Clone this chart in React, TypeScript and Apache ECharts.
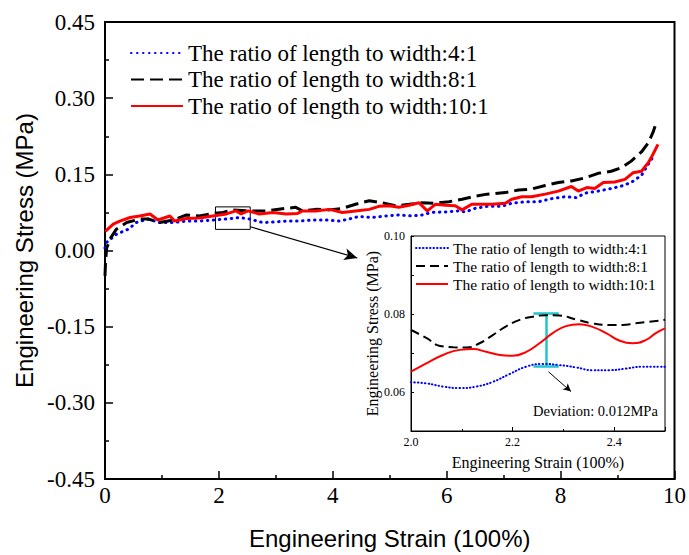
import React, { useEffect, useRef } from 'react';
import * as echarts from 'echarts';

const seriesNames = [
  'The ratio of length to width:4:1',
  'The ratio of length to width:8:1',
  'The ratio of length to width:10:1',
];
const insetKeys = ['i4', 'i8', 'i10'];

// Main chart (strain, stress)
const strain4 = [0, 0.03, 0.2, 0.41, 0.55, 0.76, 0.96, 1.2, 1.43, 1.66, 1.9, 2.13, 2.36, 2.54, 2.77, 2.95, 3.18, 3.41, 3.65, 3.88, 4.11, 4.29, 4.46, 4.69, 4.93, 5.16, 5.39, 5.57, 5.74, 5.98, 6.21, 6.33, 6.5, 6.71, 6.97, 7.14, 7.38, 7.61, 7.84, 8.08, 8.28, 8.43, 8.66, 8.89, 9.07, 9.24, 9.42, 9.54, 9.65];
const stress4 = [0.005, 0.016, 0.032, 0.042, 0.055, 0.062, 0.055, 0.055, 0.058, 0.058, 0.06, 0.062, 0.065, 0.062, 0.055, 0.056, 0.058, 0.058, 0.06, 0.06, 0.058, 0.062, 0.067, 0.065, 0.068, 0.07, 0.068, 0.07, 0.075, 0.076, 0.078, 0.076, 0.083, 0.087, 0.087, 0.093, 0.096, 0.096, 0.102, 0.106, 0.104, 0.113, 0.117, 0.122, 0.127, 0.134, 0.148, 0.17, 0.189];

const strain8 = [0, 0.01, 0.03, 0.1, 0.2, 0.38, 0.61, 0.76, 0.96, 1.2, 1.43, 1.66, 1.84, 2.07, 2.25, 2.54, 2.83, 3.18, 3.35, 3.47, 3.7, 3.94, 4.17, 4.4, 4.64, 4.87, 5.1, 5.34, 5.57, 5.8, 6.04, 6.27, 6.5, 6.71, 7.03, 7.26, 7.49, 7.73, 7.96, 8.19, 8.43, 8.66, 8.89, 9.07, 9.24, 9.42, 9.54, 9.62, 9.66];
const stress8 = [-0.05, -0.02, 0.005, 0.025, 0.042, 0.055, 0.062, 0.062, 0.055, 0.06, 0.07, 0.068, 0.072, 0.075, 0.08, 0.078, 0.078, 0.083, 0.085, 0.078, 0.081, 0.08, 0.083, 0.091, 0.098, 0.094, 0.088, 0.091, 0.094, 0.093, 0.096, 0.101, 0.107, 0.111, 0.114, 0.119, 0.121, 0.128, 0.134, 0.137, 0.143, 0.152, 0.156, 0.163, 0.176, 0.194, 0.212, 0.232, 0.245];

const strain10 = [0, 0.02, 0.145, 0.26, 0.44, 0.61, 0.79, 0.93, 1.14, 1.22, 1.43, 1.66, 1.89, 2.13, 2.3, 2.39, 2.51, 2.71, 2.95, 3.18, 3.38, 3.47, 3.7, 3.94, 4.17, 4.4, 4.64, 4.81, 4.99, 5.16, 5.34, 5.51, 5.66, 5.8, 5.98, 6.15, 6.27, 6.44, 6.68, 6.79, 7.03, 7.14, 7.32, 7.49, 7.73, 7.96, 8.19, 8.31, 8.46, 8.6, 8.75, 8.95, 9.13, 9.27, 9.42, 9.54, 9.62, 9.71];
const stress10 = [0.038, 0.039, 0.052, 0.058, 0.065, 0.068, 0.072, 0.06, 0.068, 0.058, 0.063, 0.064, 0.068, 0.072, 0.078, 0.072, 0.078, 0.072, 0.075, 0.072, 0.073, 0.078, 0.078, 0.081, 0.075, 0.078, 0.081, 0.087, 0.088, 0.085, 0.089, 0.094, 0.078, 0.091, 0.089, 0.088, 0.08, 0.091, 0.091, 0.091, 0.093, 0.101, 0.106, 0.106, 0.111, 0.117, 0.126, 0.117, 0.124, 0.122, 0.134, 0.135, 0.14, 0.153, 0.156, 0.173, 0.189, 0.209];

// Inset (zoomed 2.0 - 2.5)
const insetStrain4 = [2.0, 2.031, 2.063, 2.096, 2.129, 2.161, 2.194, 2.227, 2.259, 2.292, 2.325, 2.357, 2.39, 2.423, 2.455, 2.5];
const insetStress4 = [0.0625, 0.0622, 0.0614, 0.061, 0.0614, 0.0626, 0.0646, 0.0665, 0.0672, 0.0669, 0.0663, 0.0656, 0.0656, 0.066, 0.0665, 0.0665];

const insetStrain8 = [2.0, 2.031, 2.057, 2.083, 2.109, 2.135, 2.161, 2.188, 2.214, 2.24, 2.266, 2.292, 2.325, 2.357, 2.39, 2.416, 2.442, 2.469, 2.5];
const insetStress8 = [0.0759, 0.0738, 0.0718, 0.0715, 0.0714, 0.0725, 0.0746, 0.0769, 0.0785, 0.0793, 0.0797, 0.0796, 0.0786, 0.0776, 0.0772, 0.0772, 0.0776, 0.078, 0.0785];

const insetStrain10 = [2.0, 2.031, 2.063, 2.096, 2.122, 2.148, 2.175, 2.2, 2.227, 2.253, 2.279, 2.305, 2.331, 2.357, 2.384, 2.41, 2.436, 2.462, 2.482, 2.5];
const insetStress10 = [0.0652, 0.0674, 0.0695, 0.0708, 0.071, 0.0703, 0.0695, 0.0693, 0.0703, 0.0725, 0.0751, 0.0769, 0.0774, 0.0767, 0.0751, 0.0732, 0.0725, 0.0733, 0.0751, 0.0763];

// Annotations (data coordinates)
const zoomBox = [[1.94, 0.0416], [2.55, 0.0859]];
const mainArrow = [[2.55, 0.0467], [4.43, -0.0147]];
const devX = 2.266;
const devCapHalf = 0.025;
const devLow = 0.0665;
const devHigh = 0.0803;
const insetArrow = [[2.2706, 0.0652], [2.315, 0.0601]];
const deviationText = 'Deviation: 0.012MPa';

const SERIF = 'Liberation Serif';
const SANS = 'Liberation Sans';

const zip = (xs: number[], ys: number[]) => xs.map((x, i) => [x, ys[i]]);

export default function App() {
  const ref = useRef<HTMLDivElement>(null);
  useEffect(() => {
    const chart = echarts.init(ref.current!, null, { renderer: 'svg' });
    const labelMap: Record<string, string> = {};
    insetKeys.forEach((k, i) => (labelMap[k] = seriesNames[i]));

    const blueMain = { color: '#0000ff', width: 3, type: [0.5, 5.5], cap: 'round' };
    const blackMain = { color: '#000000', width: 3, type: [13, 6] };
    const redMain = { color: '#ff0000', width: 3, type: 'solid' };
    const blueIn = { color: '#0000ff', width: 2, type: [0.5, 3], cap: 'round' };
    const blackIn = { color: '#000000', width: 2, type: [9, 5] };
    const redIn = { color: '#ff0000', width: 2, type: 'solid' };

    const option: any = {
      animation: false,
      backgroundColor: '#ffffff',
      grid: [
        { left: 105, top: 22, width: 571, height: 459, show: true, borderColor: '#000', borderWidth: 2, backgroundColor: 'transparent' },
        { left: 411, top: 236, width: 254, height: 195, show: true, borderColor: '#000', borderWidth: 1, backgroundColor: '#ffffff', z: 5 },
      ],
      xAxis: [
        {
          gridIndex: 0, type: 'value', min: 0, max: 10, interval: 2,
          name: 'Engineering Strain (100%)', nameLocation: 'middle', nameGap: 47,
          nameTextStyle: { fontFamily: SANS, fontSize: 24, color: '#000' },
          axisLine: { show: true, onZero: false, lineStyle: { color: '#000', width: 2 } },
          axisTick: { show: true, inside: true, length: 8, lineStyle: { color: '#000', width: 1.5 } },
          minorTick: { show: true, splitNumber: 2, length: 4, lineStyle: { color: '#000', width: 1.5 } },
          axisLabel: { fontFamily: SERIF, fontSize: 23, color: '#000', margin: 5 },
          splitLine: { show: false },
        },
        {
          gridIndex: 1, type: 'value', min: 2.0, max: 2.5, interval: 0.2,
          name: 'Engineering Strain (100%)', nameLocation: 'middle', nameGap: 23,
          nameTextStyle: { fontFamily: SERIF, fontSize: 16, color: '#000' },
          axisLine: { show: true, onZero: false, lineStyle: { color: '#000', width: 1 } },
          axisTick: { show: true, inside: true, length: 4, lineStyle: { color: '#000', width: 1 } },
          minorTick: { show: true, splitNumber: 2, length: 2, lineStyle: { color: '#000', width: 1 } },
          axisLabel: {
            fontFamily: SERIF, fontSize: 12, color: '#000', margin: 5,
            formatter: (v: number) => (Math.abs(v - 2.5) < 1e-6 ? '' : v.toFixed(1)),
          },
          splitLine: { show: false },
          z: 6,
        },
      ],
      yAxis: [
        {
          gridIndex: 0, type: 'value', min: -0.45, max: 0.45, interval: 0.15,
          name: 'Engineering Stress (MPa)', nameLocation: 'middle', nameGap: 67,
          nameTextStyle: { fontFamily: SANS, fontSize: 24, color: '#000' },
          axisLine: { show: true, onZero: false, lineStyle: { color: '#000', width: 2 } },
          axisTick: { show: true, inside: true, length: 8, lineStyle: { color: '#000', width: 1.5 } },
          minorTick: { show: true, splitNumber: 2, length: 4, lineStyle: { color: '#000', width: 1.5 } },
          axisLabel: {
            fontFamily: SERIF, fontSize: 23, color: '#000', margin: 10,
            formatter: (v: number) => (Math.abs(v) < 1e-9 ? '0.00' : v.toFixed(2)),
          },
          splitLine: { show: false },
        },
        {
          gridIndex: 1, type: 'value', min: 0.05, max: 0.1, interval: 0.01,
          name: 'Engineering Stress (MPa)', nameLocation: 'middle', nameGap: 26,
          nameTextStyle: { fontFamily: SERIF, fontSize: 16, color: '#000' },
          axisLine: { show: true, onZero: false, lineStyle: { color: '#000', width: 1 } },
          axisTick: { show: true, inside: true, length: 3, lineStyle: { color: '#000', width: 1 } },
          axisLabel: {
            fontFamily: SERIF, fontSize: 12, color: '#000', margin: 6,
            formatter: (v: number) => {
              const k = Math.round(v * 100);
              return k % 2 === 0 ? v.toFixed(2) : '';
            },
          },
          splitLine: { show: false },
          z: 6,
        },
      ],
      legend: [
        {
          data: seriesNames, orient: 'vertical', left: 130, top: 41.5, padding: 0,
          itemWidth: 52, itemHeight: 14, itemGap: 3.5, selectedMode: false,
          itemStyle: { opacity: 0 },
          textStyle: { fontFamily: SERIF, fontSize: 23, color: '#000' },
        },
        {
          data: insetKeys, orient: 'vertical', left: 415, top: 240, padding: 0,
          itemWidth: 32, itemHeight: 10, itemGap: 2, selectedMode: false, z: 7,
          itemStyle: { opacity: 0 },
          formatter: (n: string) => labelMap[n],
          textStyle: { fontFamily: SERIF, fontSize: 15.5, color: '#000' },
        },
      ],
      series: [
        {
          type: 'line', name: seriesNames[0], xAxisIndex: 0, yAxisIndex: 0,
          data: zip(strain4, stress4), symbol: 'none', lineStyle: blueMain, itemStyle: { color: '#0000ff' }, z: 2,
          markArea: {
            silent: true,
            itemStyle: { color: 'rgba(0,0,0,0)', borderColor: '#000', borderWidth: 1 },
            data: [[{ coord: zoomBox[0] }, { coord: zoomBox[1] }]],
          },
        },
        {
          type: 'line', name: seriesNames[1], xAxisIndex: 0, yAxisIndex: 0,
          data: zip(strain8, stress8), symbol: 'none', lineStyle: blackMain, itemStyle: { color: '#000' }, z: 3,
          markLine: {
            silent: true, symbol: ['none', 'arrow'], symbolSize: [9, 13],
            lineStyle: { color: '#000', width: 1.2, type: 'solid' }, label: { show: false },
            data: [[{ coord: mainArrow[0] }, { coord: mainArrow[1] }]],
          },
        },
        {
          type: 'line', name: seriesNames[2], xAxisIndex: 0, yAxisIndex: 0,
          data: zip(strain10, stress10), symbol: 'none', lineStyle: redMain, itemStyle: { color: '#ff0000' }, z: 4,
        },
        {
          type: 'line', name: insetKeys[0], xAxisIndex: 1, yAxisIndex: 1, smooth: true,
          data: zip(insetStrain4, insetStress4), symbol: 'none', lineStyle: blueIn, itemStyle: { color: '#0000ff' }, z: 8,
          markLine: {
            silent: true, symbol: ['none', 'arrow'], symbolSize: [6, 8],
            lineStyle: { color: '#000', width: 1, type: 'solid' }, label: { show: false },
            data: [[{ coord: insetArrow[0] }, { coord: insetArrow[1] }]],
          },
        },
        {
          type: 'line', name: insetKeys[1], xAxisIndex: 1, yAxisIndex: 1, smooth: true,
          data: zip(insetStrain8, insetStress8), symbol: 'none', lineStyle: blackIn, itemStyle: { color: '#000' }, z: 8,
        },
        {
          type: 'line', name: insetKeys[2], xAxisIndex: 1, yAxisIndex: 1, smooth: true,
          data: zip(insetStrain10, insetStress10), symbol: 'none', lineStyle: redIn, itemStyle: { color: '#ff0000' }, z: 9,
          markLine: {
            silent: true, symbol: 'none',
            lineStyle: { color: '#20c6cc', width: 2.5, type: 'solid' }, label: { show: false },
            data: [
              [{ coord: [devX, devLow] }, { coord: [devX, devHigh] }],
              [{ coord: [devX - devCapHalf, devHigh] }, { coord: [devX + devCapHalf, devHigh] }],
              [{ coord: [devX - devCapHalf, devLow] }, { coord: [devX + devCapHalf, devLow] }],
            ],
          },
        },
      ],
      graphic: [
        {
          type: 'text', left: 533, top: 403, z: 100,
          style: { text: deviationText, font: '14.5px "Liberation Serif"', fill: '#000' },
        },
      ],
    };
    chart.setOption(option);
    return () => chart.dispose();
  }, []);
  return (
    <div
      ref={ref}
      style={{ position: 'fixed', left: 0, top: 0, width: 689, height: 555, background: '#fff' }}
    />
  );
}
